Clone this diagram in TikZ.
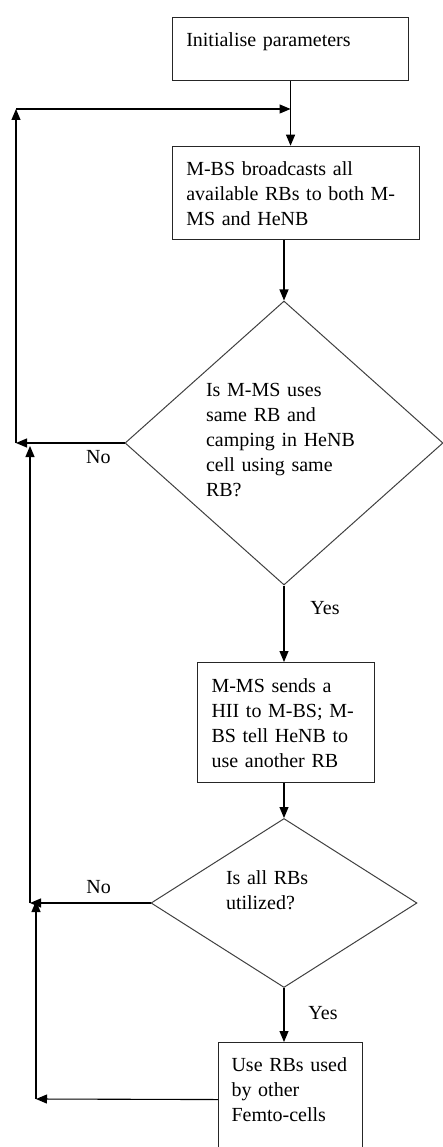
\documentclass[tikz,border=0pt]{standalone}
\usepackage{fontspec}
\setmainfont{Liberation Serif}
\usepackage{tikz}
\usetikzlibrary{positioning}
\usetikzlibrary{shapes}
\usetikzlibrary{calc}
\usetikzlibrary{arrows.meta}

\begin{document}
\begin{tikzpicture}[x=1pt,y=-1pt]
% définition des paramètres
\tikzstyle boiteflux=[draw=black!85,line width=1.1pt,rectangle,anchor=north west,align=left,inner xsep=14pt,inner ysep=0pt,font=\fontsize{20}{25}\selectfont]
\tikzstyle losangeflux=[draw=black!75,line width=1pt,diamond,inner sep=0pt,align=left,font=\fontsize{20}{25}\selectfont]
\tikzstyle flecheflux=[draw=black,line width=1.1pt,-{Triangle[length=11pt,width=9pt]}]
\tikzstyle etiquetteflux=[inner sep=0pt,font=\fontsize{20}{25}\selectfont]

\newcommand{\xboucleun}{16}    % abscisse de la grande boucle
\newcommand{\xboucledeux}{30}  % abscisse de la deuxième boucle
\newcommand{\xboucletrois}{36} % abscisse de la dernière boucle

% le cadre
\useasboundingbox (0,0) rectangle (443,1147);
\clip (0,0) rectangle (443,1147);

% les boites
\node[boiteflux,text width=208.6pt,text height=29pt,text depth=34pt] (init) at (171.7,16.7) {Initialise parameters};
\node[boiteflux,text width=219.3pt,text height=29.3pt,text depth=64.3pt] (diffusion) at (171.7,145.7) {M-BS broadcasts all\\ available RBs to both M-\\ MS and HeNB};
\node[boiteflux,text width=149pt,text height=30pt,text depth=90pt] (envoi) at (197,662) {M-MS sends a\\ HII to M-BS; M-\\ BS tell HeNB to\\ use another RB};
\node[boiteflux,inner xsep=13pt,text width=118pt,text height=29pt,text depth=85pt] (femto) at (218,1042) {Use RBs used\\ by other\\ Femto-cells};

% les losanges
\node[losangeflux,aspect=1.12,minimum width=318pt,minimum height=284pt,text width=156pt,text height=14pt,text depth=108pt] (testmeme) at (284,443) {Is M-MS uses\\ same RB and\\ camping in HeNB\\ cell using same\\ RB?};
\node[losangeflux,aspect=1.57,minimum width=266pt,minimum height=169pt,text width=116pt,text height=14pt,text depth=52pt] (testtous) at (284,903) {Is all RBs\\ utilized?};

% les coins des boucles
\coordinate (boucleA) at (\xboucleun,443);
\coordinate (boucleB) at (\xboucleun,109);
\coordinate (boucleC) at (\xboucledeux,903);
\coordinate (boucleD) at (\xboucledeux,446);
\coordinate (boucleE) at (\xboucletrois,1099);
\coordinate (boucleF) at (\xboucletrois,901);

% les flèches
\draw[flecheflux] (init.south) -- (init.south |- diffusion.north);
\draw[flecheflux] (testmeme.north |- diffusion.south) -- (testmeme.north);
\draw[flecheflux] (testmeme.south) -- (testmeme.south |- envoi.north) node[etiquetteflux,pos=0.3,xshift=41pt] {Yes};
\draw[flecheflux] (testtous.north |- envoi.south) -- (testtous.north);
\draw[flecheflux] (testtous.south) -- (testtous.south |- femto.north) node[etiquetteflux,pos=0.47,xshift=39pt] {Yes};
% les retours
\draw[flecheflux] (testmeme.west) -- (boucleA) node[etiquetteflux,pos=0.24,yshift=-14pt] {No};
\draw[flecheflux] (boucleA) -- (boucleB);
\draw[flecheflux] (boucleB) -- (boucleB -| init.south);
\draw[flecheflux] (testtous.west) -- (boucleC) node[etiquetteflux,pos=0.43,yshift=16pt] {No};
\draw[flecheflux] (boucleC) -- (boucleD);
\draw[flecheflux] (femto.west) -- (boucleE);
\draw[flecheflux] (boucleE) -- (boucleF);
\end{tikzpicture}
\end{document}
